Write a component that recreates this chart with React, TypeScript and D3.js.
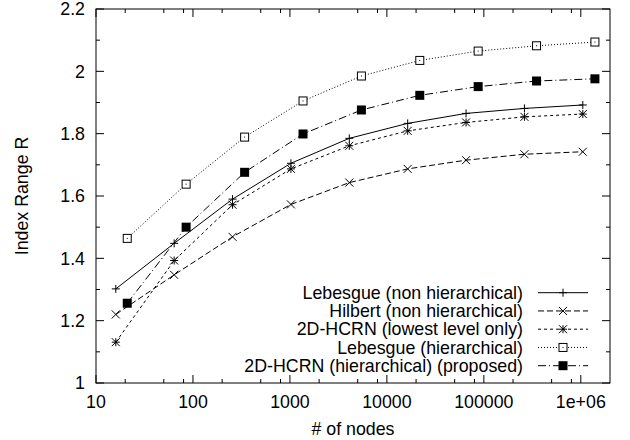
import React from 'react';
import * as d3 from 'd3';

const width = 630;
const height = 440;

// node counts: flat layouts use 4^k, hierarchical use (4^(k+1)-1)/3
const nodesFlat = [16, 64, 256, 1024, 4096, 16384, 65536, 262144, 1048576];
const nodesHier = [21, 85, 341, 1365, 5461, 21845, 87381, 349525, 1398101];

const lebesgueFlat = [1.302, 1.448, 1.59, 1.705, 1.785, 1.833, 1.865, 1.881, 1.892];
const hilbertFlat = [1.22, 1.347, 1.469, 1.573, 1.643, 1.687, 1.715, 1.734, 1.742];
const hcrnLowest = [1.131, 1.393, 1.572, 1.687, 1.761, 1.809, 1.836, 1.854, 1.863];
const lebesgueHier = [1.464, 1.638, 1.789, 1.905, 1.985, 2.035, 2.065, 2.082, 2.094];
const hcrnHier = [1.256, 1.5, 1.676, 1.799, 1.876, 1.923, 1.951, 1.969, 1.976];

const seriesNames = [
  'Lebesgue (non hierarchical)',
  'Hilbert (non hierarchical)',
  '2D-HCRN (lowest level only)',
  'Lebesgue (hierarchical)',
  '2D-HCRN (hierarchical) (proposed)',
];

const xMajorTicks = [10, 100, 1000, 10000, 100000, 1000000];
const xTickLabels = ['10', '100', '1000', '10000', '100000', '1e+06'];
const xMinorSteps = [2, 5, 8];
const yMajorTicks = [1, 1.2, 1.4, 1.6, 1.8, 2, 2.2];
const yTickLabels = ['1', '1.2', '1.4', '1.6', '1.8', '2', '2.2'];
const yMinorTicks = [1.1, 1.3, 1.5, 1.7, 1.9, 2.1];

const series = [
  { name: seriesNames[0], xs: nodesFlat, ys: lebesgueFlat, dash: 'none', marker: 'plus' },
  { name: seriesNames[1], xs: nodesFlat, ys: hilbertFlat, dash: '6,3', marker: 'cross' },
  { name: seriesNames[2], xs: nodesFlat, ys: hcrnLowest, dash: '3,3', marker: 'star' },
  { name: seriesNames[3], xs: nodesHier, ys: lebesgueHier, dash: '1,2', marker: 'box' },
  { name: seriesNames[4], xs: nodesHier, ys: hcrnHier, dash: '8,3,1,3', marker: 'fbox' },
];

const left = 96, right = 610, top = 9, bottom = 383;
const font = '"Liberation Sans", Arial, Helvetica, sans-serif';

const Marker = ({ type, x, y }: { type: string; x: number; y: number }) => {
  const s = 4;
  if (type === 'plus') {
    return <path d={`M${x - s},${y}H${x + s}M${x},${y - s}V${y + s}`} stroke="#000" />;
  }
  if (type === 'cross') {
    return <path d={`M${x - s},${y - s}L${x + s},${y + s}M${x - s},${y + s}L${x + s},${y - s}`} stroke="#000" />;
  }
  if (type === 'star') {
    return (
      <path
        d={`M${x - s},${y}H${x + s}M${x},${y - s}V${y + s}M${x - s},${y - s}L${x + s},${y + s}M${x - s},${y + s}L${x + s},${y - s}`}
        stroke="#000"
      />
    );
  }
  if (type === 'box') {
    return (
      <g>
        <rect x={x - s} y={y - s} width={2 * s} height={2 * s} fill="#fff" stroke="#000" />
        <rect x={x - 0.5} y={y - 0.5} width={1} height={1} fill="#000" />
      </g>
    );
  }
  return <rect x={x - 4.5} y={y - 4.5} width={9} height={9} fill="#000" />;
};

export default function App() {
  const xScale = d3.scaleLog().domain([10, 2000000]).range([left, right]);
  const yScale = d3.scaleLinear().domain([1, 2.2]).range([bottom, top]);

  const xMinor: number[] = [];
  xMajorTicks.forEach(t => xMinorSteps.forEach(m => {
    if (t * m < 2000000) xMinor.push(t * m);
  }));

  const line = d3.line<[number, number]>()
    .x(d => xScale(d[0]))
    .y(d => yScale(d[1]));

  const legendX = 523;
  const legendY0 = 292.7;
  const legendStep = 18.25;

  return (
    <svg width={width} height={height} style={{ position: 'absolute', left: 0, top: 0, background: '#fff' }}
      fontFamily={font} fontSize={17.8}>
      {/* y ticks, both sides */}
      {yMajorTicks.map((t, i) => (
        <g key={'ym' + i}>
          <line x1={left} x2={left + 8} y1={yScale(t)} y2={yScale(t)} stroke="#000" />
          <line x1={right} x2={right - 8} y1={yScale(t)} y2={yScale(t)} stroke="#000" />
          <text x={85} y={yScale(t)} dy="0.35em" textAnchor="end">{yTickLabels[i]}</text>
        </g>
      ))}
      {yMinorTicks.map((t, i) => (
        <g key={'yn' + i}>
          <line x1={left} x2={left + 4} y1={yScale(t)} y2={yScale(t)} stroke="#000" />
          <line x1={right} x2={right - 4} y1={yScale(t)} y2={yScale(t)} stroke="#000" />
        </g>
      ))}
      {/* x ticks, both sides */}
      {xMajorTicks.map((t, i) => (
        <g key={'xm' + i}>
          <line x1={xScale(t)} x2={xScale(t)} y1={bottom} y2={bottom - 8} stroke="#000" />
          <line x1={xScale(t)} x2={xScale(t)} y1={top} y2={top + 8} stroke="#000" />
          <text x={xScale(t)} y={408} textAnchor="middle">{xTickLabels[i]}</text>
        </g>
      ))}
      {xMinor.map((t, i) => (
        <g key={'xn' + i}>
          <line x1={xScale(t)} x2={xScale(t)} y1={bottom} y2={bottom - 4} stroke="#000" />
          <line x1={xScale(t)} x2={xScale(t)} y1={top} y2={top + 4} stroke="#000" />
        </g>
      ))}

      {/* series */}
      {series.map((s, i) => {
        const pts = s.xs.map((x, j) => [x, s.ys[j]] as [number, number]);
        return (
          <g key={'s' + i}>
            <path d={line(pts) || ''} fill="none" stroke="#000" strokeDasharray={s.dash} />
            {pts.map((p, j) => (
              <Marker key={j} type={s.marker} x={xScale(p[0])} y={yScale(p[1])} />
            ))}
          </g>
        );
      })}

      {/* legend */}
      {series.map((s, i) => {
        const y = legendY0 + i * legendStep;
        return (
          <g key={'l' + i}>
            <text x={legendX} y={y} dy="0.35em" textAnchor="end">{s.name}</text>
            <line x1={538} x2={588} y1={y} y2={y} stroke="#000" strokeDasharray={s.dash} />
            <Marker type={s.marker} x={563} y={y} />
          </g>
        );
      })}

      {/* frame */}
      <rect x={left} y={top} width={right - left} height={bottom - top} fill="none" stroke="#000" />

      {/* axis titles */}
      <text x={(left + right) / 2} y={435} textAnchor="middle"># of nodes</text>
      <text transform={`translate(28,${(top + bottom) / 2}) rotate(-90)`} textAnchor="middle">Index Range R</text>
    </svg>
  );
}
